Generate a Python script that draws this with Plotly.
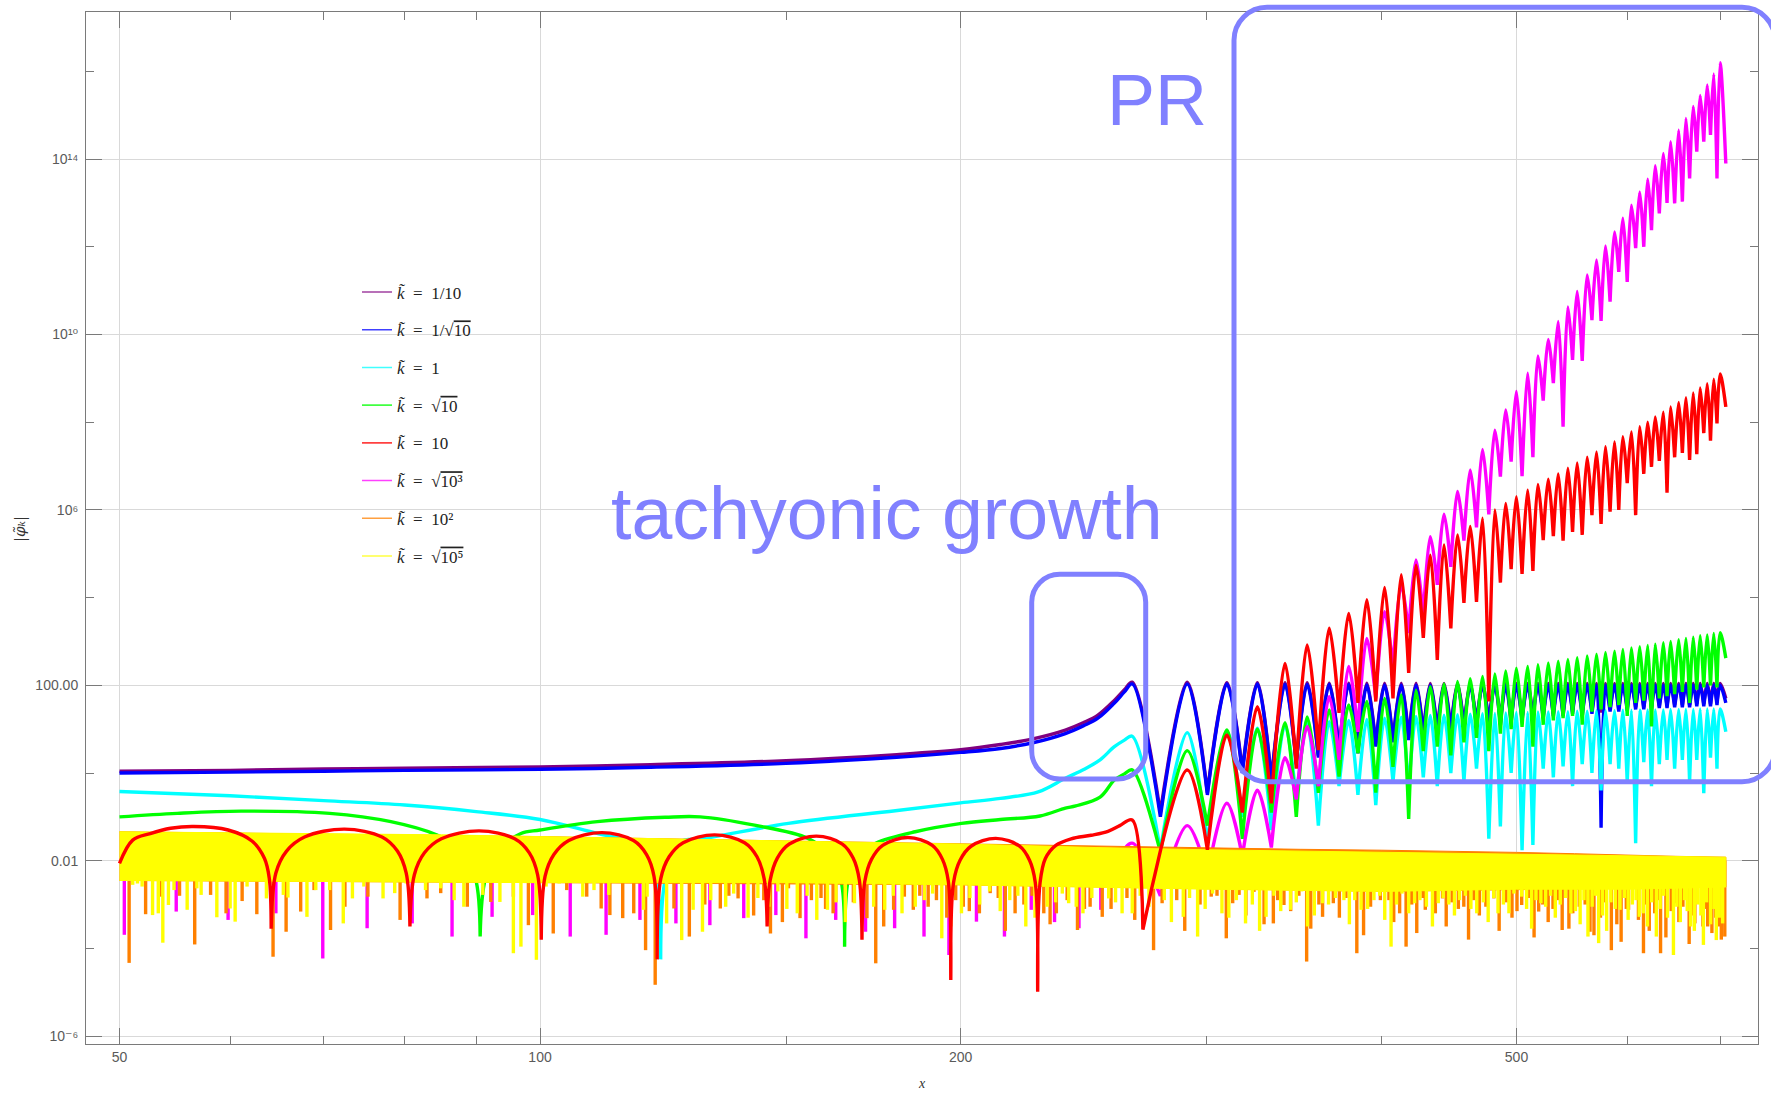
import numpy as np
import plotly.graph_objects as go

# ------------------------------------------------------------------ data
# All y values are stored as log10(|phi_k|).

# common positions (x) of the oscillation maxima / cusps in the resonance regime
PEAK_X = [265.4, 290.6, 310.2, 326.2, 341.4, 354.1, 367.2, 379.2, 390.7, 402.3,
          413.5, 423.7, 433.8, 443.7, 453.7, 463.3, 472.8, 482.5, 491.2, 499.9,
          509.3, 518.0, 526.9, 535.6, 544.2, 552.6, 561.8, 570.5, 579.0, 587.7,
          595.8, 604.3, 612.6, 620.7, 628.5, 636.9, 644.6, 653.2, 661.1, 669.1,
          676.8, 684.7, 692.1, 699.4]
TROUGH_X = [278.0, 300.4, 318.2, 333.8, 347.8, 360.7, 373.2, 385.0, 396.5, 407.9,
            418.6, 428.8, 438.8, 448.7, 458.5, 468.1, 477.7, 486.9, 495.6, 504.6,
            513.7, 522.5, 531.3, 539.9, 548.4, 557.2, 566.2, 574.8, 583.4, 591.8,
            600.1, 608.5, 616.7, 624.6, 632.7, 640.8, 648.9, 657.2, 665.1, 673.0,
            680.8, 688.4, 695.8]
END_X = 706.0

# k = 1/10 (purple) and k = 1/sqrt(10) (blue)
BLUE_PRE_X = [50, 60, 70, 80, 100, 120, 150, 180, 200, 213.6, 225.3, 237.7, 245, 250.8, 257.6, 262]
BLUE_PRE_LOG = [0.0, 0.02, 0.04, 0.06, 0.085, 0.13, 0.22, 0.36, 0.47, 0.56, 0.69, 0.9, 1.08, 1.25, 1.59, 1.85]
PURPLE_PRE_LOG = [0.04, 0.06, 0.09, 0.11, 0.14, 0.19, 0.28, 0.42, 0.53, 0.65, 0.78, 0.98, 1.15, 1.32, 1.65, 1.9]
BLUE_PEAK_LOG = [2.03, 2.03, 2.03, 2.03, 2.02, 2.02, 2.02, 2.02, 2.01, 2.01,
                 2.01, 2.01, 2.0, 2.0, 2.0, 2.0, 2.0, 2.0, 2.0, 2.0,
                 2.0, 2.0, 2.0, 2.0, 2.0, 2.0, 2.0, 2.0, 2.0, 2.0,
                 2.0, 2.0, 2.0, 2.0, 2.0, 2.0, 2.0, 2.0, 2.0, 2.0,
                 2.0, 2.0, 2.0, 2.0]
BLUE_TROUGH_LOG = [-1.0, -0.5, 0.0, -0.2, 0.2, 0.35, 0.5, 0.45, 0.6, 0.7,
                   0.75, 0.85, 0.9, 0.95, 1.0, 1.05, 1.1, 1.1, 1.15, 1.2,
                   1.2, 1.25, 1.3, 1.3, 1.35, 1.3, 1.35, -1.25, 1.4, 1.4,
                   1.42, 1.45, 1.45, 1.45, 1.48, 1.48, 1.5, 1.5, 1.5, 1.52,
                   1.52, 1.52, 1.55]
BLUE_END_LOG = 1.6
PURPLE_PEAK_LOG = [2.07, 2.07, 2.06, 2.06, 2.06, 2.06, 2.05, 2.05, 2.05, 2.05,
                   2.05, 2.05, 2.04, 2.04, 2.04, 2.04, 2.04, 2.04, 2.04, 2.04,
                   2.04, 2.04, 2.04, 2.04, 2.04, 2.04, 2.04, 2.04, 2.04, 2.04,
                   2.04, 2.04, 2.04, 2.04, 2.04, 2.04, 2.04, 2.04, 2.04, 2.04,
                   2.04, 2.04, 2.04, 2.04]
PURPLE_TROUGH_LOG = [-0.9, -0.45, 0.05, -0.15, 0.25, 0.4, 0.55, 0.5, 0.65, 0.75,
                     0.8, 0.9, 0.95, 1.0, 1.05, 1.1, 1.15, 1.15, 1.2, 1.25,
                     1.25, 1.3, 1.35, 1.35, 1.4, 1.35, 1.4, 1.38, 1.45, 1.45,
                     1.47, 1.5, 1.5, 1.5, 1.52, 1.52, 1.55, 1.55, 1.55, 1.57,
                     1.57, 1.57, 1.6]
PURPLE_END_LOG = 1.7

# k = 1 (cyan)
CYAN_PRE_X = [50, 60, 70, 80, 90, 100, 110, 115, 118.5, 121.2, 122.0, 122.8, 125.5, 131.4,
              150.6, 179.6, 200, 213.6, 227.3, 237.7, 245, 251.7, 257.7, 262]
CYAN_PRE_LOG = [-0.42, -0.52, -0.63, -0.73, -0.88, -1.06, -1.38, -1.51, -1.65, -2.5, -4.25, -2.5, -1.6, -1.49,
                -1.15, -0.86, -0.68, -0.58, -0.43, -0.12, 0.08, 0.3, 0.6, 0.75]
CYAN_PEAK_LOG = [0.84, 0.92, 0.96, 1.02, 1.1, 1.13, 1.17, 1.2, 1.22, 1.25,
                 1.27, 1.29, 1.31, 1.32, 1.33, 1.34, 1.35, 1.36, 1.37, 1.38,
                 1.38, 1.39, 1.39, 1.4, 1.4, 1.41, 1.41, 1.42, 1.42, 1.42,
                 1.43, 1.43, 1.43, 1.44, 1.44, 1.44, 1.45, 1.45, 1.45, 1.45,
                 1.46, 1.46, 1.46, 1.46]
CYAN_TROUGH_LOG = [-1.75, -1.6, -1.0, -1.3, -0.6, -1.2, -0.3, -0.5, -0.73, -0.2,
                   -0.4, -0.1, -0.3, 0.0, -0.2, 0.1, -1.5, -1.22, 0.0, -1.76,
                   -1.64, 0.1, -0.1, 0.15, -0.3, 0.2, 0.0, -0.4, 0.2, 0.1,
                   -0.2, -1.6, 0.25, -0.3, 0.2, 0.3, 0.1, 0.3, -0.2, 0.3,
                   -0.46, 0.35, 0.1]
CYAN_END_LOG = 0.94

# k = sqrt(10) (green)
GREEN_PRE_X = [50, 55, 61.1, 70.7, 78.2, 84.3, 87.8, 89.9, 90.6, 91.4,
               93.5, 96.9, 100, 109.9, 122.9, 130.2, 142.4, 155.5, 160.8, 164.2,
               165.2, 166.3, 169.5, 173.9, 185.6, 200.3, 213.6, 228.0, 237.7, 241.8,
               251.7, 257.7, 262]
GREEN_PRE_LOG = [-1.0, -0.92, -0.87, -0.92, -1.11, -1.41, -1.75, -2.4, -3.73, -2.4,
                 -1.75, -1.38, -1.3, -1.11, -1.01, -1.0, -1.19, -1.49, -1.85, -2.45,
                 -3.96, -2.4, -1.85, -1.6, -1.34, -1.15, -1.06, -0.98, -0.8, -0.75,
                 -0.55, -0.16, -0.02]
GREEN_PEAK_LOG = [0.07, 0.51, 0.98, 1.0, 1.15, 1.28, 1.44, 1.55, 1.63, 1.7,
                  1.78, 1.89, 1.97, 2.03, 2.09, 2.15, 2.2, 2.26, 2.33, 2.39,
                  2.43, 2.47, 2.51, 2.55, 2.59, 2.63, 2.67, 2.71, 2.75, 2.78,
                  2.82, 2.85, 2.88, 2.91, 2.94, 2.97, 3.0, 3.04, 3.07, 3.1,
                  3.13, 3.15, 3.18, 3.2]
GREEN_TROUGH_LOG = [-1.8, -1.2, -1.5, -0.9, -1.0, -0.45, -0.08, 0.45, -0.45, 0.14,
                    -1.05, 0.5, 0.6, 0.4, 0.7, 0.8, 0.5, 0.9, 1.0, 1.05,
                    0.6, 1.1, 1.2, 1.25, 1.3, 1.1, 1.4, 1.45, 1.5, 1.55,
                    1.3, 1.6, 1.65, 1.06, 1.7, 1.75, 1.8, 1.85, 1.6, 1.9,
                    1.95, 2.0, 1.95]
GREEN_END_LOG = 2.62

# k = 10 (red)
RED_PRE_X = [50, 51.1, 52.6, 54.4, 56.5, 59.8, 62.2, 63.5, 64.0, 64.2,
             64.7, 65.85, 67.83, 72.45, 77.07, 79.05, 80.2, 80.7,
             81.29, 82.65, 84.99, 90.45, 95.91, 98.25, 99.6, 100.2,
             100.83, 102.31, 104.84, 110.75, 116.66, 119.19, 120.67, 121.3,
             122.02, 123.71, 126.6, 133.35, 140.1, 142.99, 144.68, 145.4,
             146.14, 147.86, 150.81, 157.7, 164.59, 167.54, 169.26, 170.0,
             170.8, 172.68, 175.9, 183.4, 190.9, 194.12, 196.0, 196.8,
             197.71, 199.83, 203.47, 211.95, 220.43, 224.07, 226.19, 227.1,
             228.0, 230.0, 234.0, 240.0, 248.0, 255.0, 260.0, 265.4, 270.1]
RED_PRE_LOG = [-2.06, -1.53, -1.38, -1.26, -1.22, -1.3, -1.55, -1.95, -2.4, -3.55,
               -2.28, -1.78, -1.46, -1.28, -1.46, -1.78, -2.28, -3.5,
               -2.32, -1.82, -1.5, -1.32, -1.5, -1.82, -2.32, -3.8,
               -2.36, -1.86, -1.54, -1.36, -1.54, -1.86, -2.36, -4.25,
               -2.41, -1.91, -1.59, -1.41, -1.59, -1.91, -2.41, -3.5,
               -2.44, -1.94, -1.62, -1.44, -1.62, -1.94, -2.44, -3.8,
               -2.47, -1.97, -1.65, -1.47, -1.65, -1.97, -2.47, -4.72,
               -2.49, -1.99, -1.67, -1.49, -1.67, -1.99, -2.49, -4.99,
               -2.5, -1.95, -1.65, -1.5, -1.42, -1.33, -1.2, -1.07, -3.57]
RED_PEAK_LOG = [-1.07, 0.07, 0.87, 1.51, 2.5, 2.92, 3.3, 3.64, 3.95, 4.23,
                4.52, 4.74, 4.97, 5.2, 5.43, 5.62, 5.81, 6.0, 6.15, 6.3,
                6.45, 6.58, 6.7, 6.82, 6.95, 7.07, 7.2, 7.32, 7.44, 7.55,
                7.67, 7.78, 7.9, 8.0, 8.12, 8.23, 8.35, 8.45, 8.56, 8.67,
                8.78, 8.88, 8.98, 9.1]
RED_TROUGH_LOG = [-3.57, -1.75, -0.9, -0.69, 0.1, 0.52, 1.37, 1.6, 1.63, 1.7,
                  2.28, 3.08, 2.58, 3.3, 3.88, 3.9, 1.63, 4.34, 4.65, 4.54,
                  4.61, 5.31, 5.4, 5.3, 5.5, 5.43, 5.88, 5.68, 5.96, 6.0,
                  6.61, 5.88, 6.82, 6.98, 7.12, 6.39, 7.2, 7.3, 7.14, 7.27,
                  7.75, 7.58, 7.97]
RED_END_LOG = 8.35

# k = sqrt(10^3) (magenta)
MAGENTA_PRE_X = [255.0, 259.0]
MAGENTA_PRE_LOG = [-2.6, -2.0]
MAGENTA_PEAK_LOG = [-1.6, -1.2, -0.69, -0.39, 0.35, 1.06, 1.74, 2.43, 3.07, 3.68,
                    4.29, 4.86, 5.39, 5.9, 6.42, 6.91, 7.38, 7.82, 8.28, 8.7,
                    9.12, 9.51, 9.89, 10.3, 10.63, 10.98, 11.36, 11.7, 12.02, 12.34,
                    12.65, 12.95, 13.25, 13.54, 13.85, 14.13, 14.4, 14.66, 14.93, 15.2,
                    15.45, 15.69, 15.94, 16.2]
MAGENTA_TROUGH_LOG = [-2.8, -2.3, -1.9, -1.7, -0.6, -0.3, 0.3, 0.94, 1.7, 2.4,
                      3.19, 3.56, 4.29, 4.7, 5.3, 5.6, 5.9, 6.76, 7.1, 6.77,
                      7.2, 8.49, 8.89, 7.9, 9.42, 9.4, 10.33, 10.31, 10.75, 11.43,
                      11.2, 11.97, 12.0, 12.38, 12.76, 13.0, 12.99, 13.03, 13.56, 14.17,
                      14.4, 14.55, 13.56]
MAGENTA_END_LOG = 13.9
MAGENTA_SPIKE_X = [50.4, 54.9, 59.8, 64.7, 69.9, 75.2, 81.0, 86.5, 92.4, 98.8,
                   105.1, 111.5, 117.9, 125.1, 132.3, 139.9, 147.5, 155.0, 162.8, 171.0,
                   179.4, 188.3, 196.2, 205.3, 215.0, 224.7, 233.5, 243.1, 252.0]
MAGENTA_SPIKE_LOG = [-3.69, -3.16, -3.35, -3.2, -4.23, -3.54, -3.43, -3.73, -3.28, -3.24,
                     -3.73, -3.69, -3.35, -3.43, -3.47, -3.31, -3.24, -3.77, -3.35, -3.62,
                     -3.54, -3.73, -4.15, -3.39, -3.73, -3.12, -3.4, -3.54, -3.12]

# k = 10^2 (orange): dense oscillation band plus its deepest minima
ORANGE_TOP_X = [50, 100, 150, 200, 250, 300, 350, 400, 450, 500, 550, 600, 650, 706]
ORANGE_TOP_LOG = [-1.34, -1.45, -1.55, -1.62, -1.67, -1.71, -1.74, -1.76, -1.78, -1.81, -1.84, -1.88, -1.9, -1.92]
ORANGE_BOTTOM_X = [50, 200, 400, 706]
ORANGE_BOTTOM_LOG = [-2.45, -2.55, -2.7, -2.6]
ORANGE_SPIKE_X = [50.8, 52.2, 53.5, 55.2, 56.6, 58.1, 59.6, 61.2, 62.7, 64.4,
                  65.8, 67.4, 68.9, 70.8, 72.5, 75.3, 79.4, 83.0, 84.9, 88.7,
                  92.2, 95.7, 98.1, 102.2, 104.5, 108.0, 110.6, 112.2, 114.6, 116.7,
                  119.0, 120.9, 124.7, 127.9, 134.6, 138.6, 146.2, 150.6, 153.5, 156.4,
                  162.1, 165.4, 171.4, 173.9, 179.1, 182.3, 185.0, 192.2, 200.9, 206.3,
                  210.0, 218.8, 234.2, 242.5, 247.6, 252.6, 274.9, 278.8, 302.3, 309.9,
                  313.2, 316.5, 324.4, 334.9, 340.8, 353.8, 363.2, 369.7, 384.3, 399.5,
                  412.4, 416.8, 430.2, 442.6, 458.4, 481.7, 504.3, 518.6, 539.1, 554.5,
                  564.4, 584.6, 601.4, 616.4, 634.0, 649.9, 670.9, 685.2, 697.4, 704.8,
                  131.2, 136.5, 142.2, 144.6, 149.1, 158.9, 160.1, 167.6, 176.2, 187.0,
                  189.6, 195.5, 198.4, 202.9, 212.8, 215.3, 222.0, 225.0, 229.4, 231.8,
                  238.4, 245.3,
                  256.3, 263.1, 266.5, 285.6, 289.4, 296.8, 305.2, 320.1, 329.8, 337.3,
                  344.6, 349.3, 356.2, 361.0, 373.4, 377.5, 388.6, 393.1, 405.2, 408.4,
                  420.7, 424.2, 428.6, 437.4, 445.3, 449.6, 454.3, 462.0, 466.1, 470.3,
                  475.4, 485.9, 491.5, 496.3, 500.4, 510.3, 514.7, 522.1, 526.8, 531.0,
                  535.2, 545.1, 548.6, 559.9, 568.1, 574.2, 578.3, 589.9, 594.1, 599.2,
                  611.3, 618.4, 622.3, 627.9, 631.2, 639.6, 645.2, 653.4, 657.8, 664.6,
                  667.9, 679.8, 682.4, 690.0, 694.3, 700.8]
ORANGE_SPIKE_LOG = [-4.33, -3.22, -2.82, -2.8, -3.91, -2.78, -3.2, -2.92, -3.22, -4.19,
                    -3.62, -3.16, -2.67, -3.58, -3.05, -2.82, -3.35, -2.86, -2.74, -3.05,
                    -2.94, -2.82, -3.47, -3.66, -2.67, -2.82, -3.09, -3.24, -3.31, -3.2,
                    -4.04, -4.83, -3.09, -3.73, -3.09, -2.86, -3.66, -2.63, -3.31, -2.9,
                    -3.2, -2.9, -3.31, -4.34, -3.12, -2.82, -3.12, -2.9, -3.05, -3.2,
                    -2.74, -3.2, -3.2, -3.58, -3.05, -3.28, -4.04, -2.97, -2.82, -3.77,
                    -2.97, -2.78, -2.71, -3.43, -3.01, -4.3, -3.28, -2.97, -4.11, -2.9,
                    -3.2, -3.96, -3.12, -2.86, -3.05, -2.86, -3.01, -3.16, -3.58, -3.05,
                    -3.62, -4.04, -3.12, -4.11, -4.11, -2.97, -3.43, -3.5, -3.5, -3.73,
                    -3.0, -2.8, -3.25, -2.9, -3.4, -2.85, -3.1, -2.95, -3.5, -2.8,
                    -3.05, -3.3, -2.9, -3.15, -2.85, -3.6, -3.0, -2.8, -3.2, -3.45,
                    -2.9, -3.1,
                    -3.1, -2.85, -3.35, -2.9, -3.6, -3.0, -2.8, -3.25, -3.45, -2.9,
                    -3.15, -2.8, -3.55, -3.0, -3.3, -2.85, -3.7, -3.05, -2.9, -3.4,
                    -3.0, -3.65, -2.85, -3.2, -3.5, -2.95, -3.1, -3.8, -2.9, -3.25,
                    -3.05, -3.6, -2.95, -3.3, -3.15, -2.85, -3.75, -3.0, -3.4, -3.1,
                    -2.9, -3.55, -3.2, -3.0, -3.7, -3.3, -2.95, -3.45, -3.85, -3.1,
                    -3.35, -3.0, -3.6, -3.2, -2.9, -3.75, -3.15, -3.4, -3.05, -3.9,
                    -3.25, -3.5, -3.1, -3.65, -3.3, -3.8]

# k = sqrt(10^5) (yellow): dense oscillation band plus its deepest minima
YELLOW_TOP_X = [50, 60, 70, 85, 100, 125, 150, 175, 200, 225, 250, 300, 350, 400, 450, 500, 550, 600, 650, 706]
YELLOW_TOP_LOG = [-1.34, -1.36, -1.38, -1.41, -1.45, -1.5, -1.55, -1.58, -1.62, -1.66,
                  -1.7, -1.75, -1.78, -1.8, -1.82, -1.84, -1.86, -1.88, -1.9, -1.92]
YELLOW_BOTTOM_X = [50, 100, 150, 200, 250, 300, 400, 500, 600, 706]
YELLOW_BOTTOM_LOG = [-2.45, -2.5, -2.5, -2.55, -2.6, -2.65, -2.7, -2.65, -2.65, -2.6]
YELLOW_SPIKE_X = [51.1, 51.5, 51.9, 52.8, 53.3, 53.7, 54.2, 54.7, 55.9, 56.8,
                  57.2, 58.7, 60.0, 60.5, 61.7, 63.7, 65.5, 66.0, 68.1, 69.1,
                  70.7, 72.3, 73.4, 74.8, 77.2, 78.7, 80.2, 82.8, 84.9, 86.8,
                  88.2, 91.0, 93.6, 95.7, 96.9, 99.4, 101.0, 103.2, 106.5, 109.3,
                  112.0, 118.6, 123.2, 126.3, 128.7, 107.3, 119.3, 130.7, 135.8, 145.8,
                  152.8, 157.8, 160.6, 167.9, 176.5, 185.6, 193.9, 200.3, 222.7, 230.7,
                  239.0, 244.7, 255.3, 265.4, 279.8, 288.7, 295.6, 307.7, 319.9, 330.9,
                  344.5, 354.3, 363.2, 376.2, 387.0, 395.3, 406.6, 422.7, 439.5, 455.2,
                  468.3, 485.0, 504.3, 520.5, 546.9, 562.5, 572.5, 593.0, 612.1, 629.6,
                  647.6, 666.2, 680.4, 695.0, 702.3,
                  132.5, 137.6, 140.9, 143.2, 148.0, 150.2, 155.3, 162.9, 165.4, 170.1,
                  173.3, 179.0, 181.6, 188.4, 191.0, 196.8, 203.1, 206.4, 209.8, 213.5,
                  216.9, 219.8, 226.1, 233.9, 236.5, 242.0, 248.3,
                  258.2, 261.0, 268.9, 272.8, 283.1, 291.7, 299.3, 303.0, 311.2, 315.1,
                  323.5, 327.4, 335.2, 339.0, 347.8, 350.9, 358.3, 366.8, 371.0, 379.6,
                  383.0, 391.2, 399.1, 402.4, 410.3, 414.0, 418.6, 426.4, 431.0, 435.3,
                  443.1, 447.2, 451.4, 459.6, 463.8, 473.4, 477.2, 481.6, 489.3, 493.8,
                  497.9, 508.4, 512.6, 516.3, 524.6, 528.9, 533.0, 537.4, 542.2, 551.0,
                  555.3, 558.8, 566.4, 569.6, 576.2, 580.1, 584.2, 588.4, 597.3, 601.0,
                  605.2, 608.9, 616.2, 620.4, 624.8, 633.6, 637.2, 641.3, 651.2, 655.0,
                  659.4, 662.5, 670.3, 674.1, 677.6, 684.0, 688.5, 692.3, 698.4]
YELLOW_SPIKE_LOG = [-2.55, -2.52, -2.59, -3.24, -3.2, -3.87, -3.01, -2.67, -3.12, -2.63,
                    -2.78, -3.29, -3.09, -3.39, -2.59, -2.86, -2.78, -2.84, -3.28, -2.67,
                    -2.67, -3.43, -2.86, -2.59, -2.86, -2.74, -2.52, -2.67, -2.63, -2.9,
                    -3.05, -2.78, -2.94, -4.11, -3.96, -4.26, -2.59, -2.52, -2.48, -2.67,
                    -2.78, -3.12, -3.43, -3.81, -3.12, -2.82, -2.82, -3.62, -3.05, -3.05,
                    -3.2, -3.35, -3.12, -2.97, -3.12, -3.05, -3.77, -3.2, -3.5, -3.05,
                    -2.97, -3.2, -2.86, -3.2, -2.9, -3.28, -3.73, -3.2, -3.43, -3.28,
                    -3.12, -3.5, -2.97, -2.9, -3.12, -2.9, -3.96, -2.97, -2.97, -2.9,
                    -3.2, -3.2, -2.82, -2.97, -3.2, -3.73, -3.88, -3.12, -3.28, -3.73,
                    -4.15, -3.5, -3.92, -3.81, -3.43,
                    -2.9, -2.75, -3.3, -2.85, -2.7, -3.1, -2.8, -2.95, -3.4, -2.7,
                    -3.05, -2.8, -3.2, -2.9, -2.75, -3.5, -2.85, -3.0, -2.7, -3.15,
                    -2.9, -2.8, -3.3, -2.95, -2.75, -3.05, -2.85,
                    -2.95, -3.2, -2.8, -3.05, -3.4, -2.85, -3.1, -2.75, -3.3, -2.9,
                    -3.0, -3.6, -2.8, -3.15, -2.95, -2.7, -3.25, -3.0, -2.85, -3.45,
                    -2.9, -3.1, -2.8, -3.35, -3.0, -2.75, -3.2, -2.9, -3.05, -3.5,
                    -2.85, -3.0, -3.25, -2.8, -3.1, -2.95, -3.4, -2.85, -3.0, -3.2,
                    -2.75, -3.1, -3.55, -2.9, -3.05, -2.8, -3.3, -3.0, -2.85, -3.15,
                    -3.45, -2.9, -3.05, -2.8, -3.25, -3.6, -2.95, -3.1, -2.85, -3.35,
                    -3.0, -2.9, -3.2, -3.5, -2.95, -3.1, -2.8, -3.3, -3.05, -3.4,
                    -2.9, -3.15, -3.6, -3.0, -3.25, -2.95, -3.45, -3.1, -3.3]

EQ = "\u2002=\u2002"
OV = "<span style='text-decoration:overline'>"
LEGEND_LABELS = [
    "<i>k̃</i>" + EQ + "1/10",
    "<i>k̃</i>" + EQ + "1/√" + OV + "10</span>",
    "<i>k̃</i>" + EQ + "1",
    "<i>k̃</i>" + EQ + "√" + OV + "10</span>",
    "<i>k̃</i>" + EQ + "10",
    "<i>k̃</i>" + EQ + "√" + OV + "10³</span>",
    "<i>k̃</i>" + EQ + "10²",
    "<i>k̃</i>" + EQ + "√" + OV + "10⁵</span>",
]
COLORS = ["#800080", "#0000ff", "#00ffff", "#00ff00", "#ff0000", "#ff00ff", "#ff8000", "#ffff00"]

X_TICKS = [50, 100, 200, 500]
X_MINOR = [60, 70, 80, 90, 150, 300, 400, 600, 700]
Y_TICKS = [1e-6, 1e-2, 1e2, 1e6, 1e10, 1e14]
Y_TICKTEXT = ["10⁻⁶", "0.01", "100.00", "10⁶", "10¹⁰", "10¹⁴"]
Y_MINOR = [1e-4, 1, 1e4, 1e8, 1e12, 1e16]


# ------------------------------------------------------------------ helpers
def pw(v):
    return [10.0 ** t for t in v]


def sharpen(xs, ls):
    """repeat local minima so the spline keeps a cusp there"""
    ox, ol = [], []
    n = len(xs)
    for i in range(n):
        ox.append(xs[i]); ol.append(ls[i])
        if 0 < i < n - 1 and ls[i] < ls[i - 1] and ls[i] < ls[i + 1]:
            ox.append(xs[i]); ol.append(ls[i])
    return ox, ol


def resonance(pre_x, pre_log, peak_log, trough_log, end_log, first=0):
    xs, ls = list(pre_x), list(pre_log)
    for i in range(first, len(PEAK_X)):
        xs.append(PEAK_X[i]); ls.append(peak_log[i])
        if i < len(TROUGH_X):
            xs.append(TROUGH_X[i]); ls.append(trough_log[i])
    xs.append(END_X); ls.append(end_log)
    xs, ls = sharpen(xs, ls)
    return xs, pw(ls)


def spikes(xs, logs, top_log=-2.0):
    X, Y = [], []
    for x, l in zip(xs, logs):
        X += [x, x, None]
        Y += [10 ** top_log, 10 ** l, None]
    return X, Y


LW = 3.4
fig = go.Figure()


def line(x, y, color):
    fig.add_trace(go.Scatter(x=x, y=y, mode="lines", showlegend=False, hoverinfo="skip",
                             line=dict(color=color, width=LW, shape="spline", smoothing=1.0,
                                       simplify=False)))


def band(tx, tl, bx, bl, color):
    fig.add_trace(go.Scatter(x=list(tx) + list(bx)[::-1], y=pw(tl) + pw(bl)[::-1],
                             mode="lines", fill="toself", fillcolor=color, showlegend=False,
                             hoverinfo="skip", line=dict(color=color, width=1)))


def spike_trace(xs, logs, color):
    X, Y = spikes(xs, logs)
    fig.add_trace(go.Scatter(x=X, y=Y, mode="lines", showlegend=False, hoverinfo="skip",
                             line=dict(color=color, width=LW)))


# purple, blue
line(*resonance(BLUE_PRE_X, PURPLE_PRE_LOG, PURPLE_PEAK_LOG, PURPLE_TROUGH_LOG, PURPLE_END_LOG), COLORS[0])
line(*resonance(BLUE_PRE_X, BLUE_PRE_LOG, BLUE_PEAK_LOG, BLUE_TROUGH_LOG, BLUE_END_LOG), COLORS[1])
# cyan, green
line(*resonance(CYAN_PRE_X, CYAN_PRE_LOG, CYAN_PEAK_LOG, CYAN_TROUGH_LOG, CYAN_END_LOG), COLORS[2])
line(*resonance(GREEN_PRE_X, GREEN_PRE_LOG, GREEN_PEAK_LOG, GREEN_TROUGH_LOG, GREEN_END_LOG), COLORS[3])
# magenta
spike_trace(MAGENTA_SPIKE_X, MAGENTA_SPIKE_LOG, COLORS[5])
line(*resonance(MAGENTA_PRE_X, MAGENTA_PRE_LOG, MAGENTA_PEAK_LOG, MAGENTA_TROUGH_LOG, MAGENTA_END_LOG), COLORS[5])
# orange
band(ORANGE_TOP_X, ORANGE_TOP_LOG, ORANGE_BOTTOM_X, ORANGE_BOTTOM_LOG, COLORS[6])
spike_trace(ORANGE_SPIKE_X, ORANGE_SPIKE_LOG, COLORS[6])
# yellow
band(YELLOW_TOP_X, YELLOW_TOP_LOG, YELLOW_BOTTOM_X, YELLOW_BOTTOM_LOG, COLORS[7])
spike_trace(YELLOW_SPIKE_X, YELLOW_SPIKE_LOG, COLORS[7])
# red on top
line(*resonance(RED_PRE_X, RED_PRE_LOG, RED_PEAK_LOG, RED_TROUGH_LOG, RED_END_LOG, first=1), COLORS[4])

# legend entries
for i, (lab, c) in enumerate(zip(LEGEND_LABELS, COLORS)):
    fig.add_trace(go.Scatter(x=[None], y=[None], mode="lines", name=lab, legendgroup="g%d" % i,
                             opacity=0.75, line=dict(color=c, width=1.6)))

# ------------------------------------------------------------------ layout
L, T, W, H = 86, 12, 1672, 1032


def XP(px):
    return (px - L) / W


def YP(py):
    return (T + H - py) / H


def rrect(x0, y0, x1, y1, r):
    k = 0.5523 * r
    p = [f"M {XP(x0 + r)},{YP(y0)}", f"L {XP(x1 - r)},{YP(y0)}",
         f"C {XP(x1 - r + k)},{YP(y0)} {XP(x1)},{YP(y0 + r - k)} {XP(x1)},{YP(y0 + r)}",
         f"L {XP(x1)},{YP(y1 - r)}",
         f"C {XP(x1)},{YP(y1 - r + k)} {XP(x1 - r + k)},{YP(y1)} {XP(x1 - r)},{YP(y1)}",
         f"L {XP(x0 + r)},{YP(y1)}",
         f"C {XP(x0 + r - k)},{YP(y1)} {XP(x0)},{YP(y1 - r + k)} {XP(x0)},{YP(y1 - r)}",
         f"L {XP(x0)},{YP(y0 + r)}",
         f"C {XP(x0)},{YP(y0 + r - k)} {XP(x0 + r - k)},{YP(y0)} {XP(x0 + r)},{YP(y0)}", "Z"]
    return dict(type="path", xref="paper", yref="paper", path=" ".join(p),
                line=dict(color="rgb(128,128,255)", width=5), layer="above")


axis_common = dict(type="log", tickmode="array", ticks="inside", ticklen=16, tickwidth=1,
                   tickcolor="#7a7a7a", showline=True, linecolor="#7a7a7a", linewidth=1,
                   mirror="ticks", showgrid=True, gridcolor="#d9d9d9", gridwidth=1, zeroline=False,
                   tickfont=dict(family="Liberation Sans, DejaVu Sans, sans-serif", size=14, color="#5a5a5a"))

fig.update_layout(
    width=1771, height=1093,
    margin=dict(l=L, r=1771 - L - W, t=T, b=1093 - T - H),
    paper_bgcolor="white", plot_bgcolor="white",
    xaxis=dict(range=[1.67499, 2.87184], tickvals=X_TICKS, ticktext=[str(v) for v in X_TICKS],
               minor=dict(tickmode="array", tickvals=X_MINOR, ticks="inside", ticklen=8,
                          tickcolor="#7a7a7a", tickwidth=1, showgrid=False),
               **axis_common),
    yaxis=dict(range=[-6.18, 17.355], tickvals=Y_TICKS, ticktext=Y_TICKTEXT, ticklabelstandoff=4,
               minor=dict(tickmode="array", tickvals=Y_MINOR, ticks="inside", ticklen=8,
                          tickcolor="#7a7a7a", tickwidth=1, showgrid=False),
               **axis_common),
    legend=dict(x=XP(357), y=YP(274.5), xanchor="left", yanchor="top", bgcolor="rgba(0,0,0,0)",
                traceorder="grouped", tracegroupgap=12.6,
                font=dict(family="Liberation Serif, DejaVu Serif, serif", size=17, color="#222")),
    shapes=[rrect(1031.7, 574.3, 1145.7, 779.0, 28), rrect(1234.0, 7.3, 1775.0, 781.7, 33)],
    annotations=[
        dict(text="tachyonic growth", xref="paper", yref="paper", x=XP(609), y=YP(513),
             xanchor="left", yanchor="middle", showarrow=False,
             font=dict(family="Liberation Sans, Arial, sans-serif", size=73.5, color="rgb(128,128,255)")),
        dict(text="PR", xref="paper", yref="paper", x=XP(1105), y=YP(99.5),
             xanchor="left", yanchor="middle", showarrow=False,
             font=dict(family="Liberation Sans, Arial, sans-serif", size=72, color="rgb(128,128,255)")),
        dict(text="<i>x</i>", xref="paper", yref="paper", x=XP(921.6), y=YP(1083),
             xanchor="center", yanchor="middle", showarrow=False,
             font=dict(family="Liberation Serif, serif", size=14, color="#333")),
        dict(text="|<i>φ̃ₖ</i>|", xref="paper", yref="paper", x=XP(20), y=YP(529),
             xanchor="center", yanchor="middle", showarrow=False, textangle=-90,
             font=dict(family="DejaVu Serif, Liberation Serif, serif", size=15, color="#333")),
    ],
)

fig.write_html("out.html", include_plotlyjs=True, config={"displayModeBar": False},
               post_script="document.body.style.margin='0';document.body.style.padding='0';")
